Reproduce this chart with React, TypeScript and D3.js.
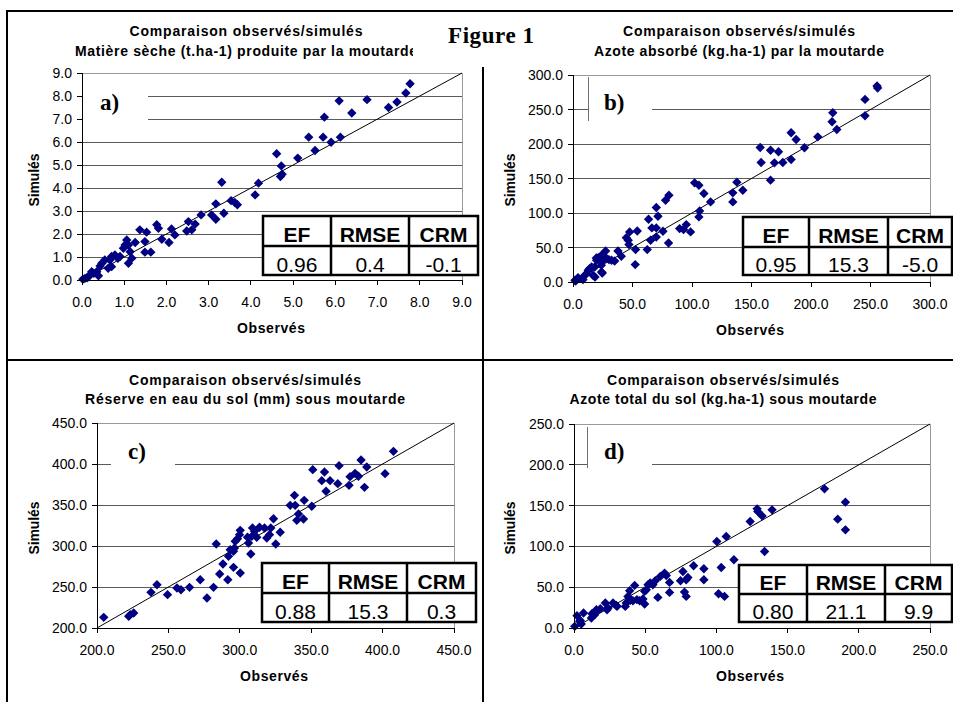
import React from "react";
import * as d3 from "d3";

const pointsA: [number, number][] = [
  [0.02, 0.03], [0.07, 0.07], [0.12, 0.1], [0.15, 0.14], [0.19, 0.22], [0.23, 0.36], [0.28, 0.29],
  [0.35, 0.36], [0.39, 0.18], [0.43, 0.61], [0.47, 0.73], [0.54, 0.87], [0.62, 0.51], [0.7, 0.58],
  [0.66, 0.87], [0.7, 1.02], [0.78, 1.09], [0.9, 1.02], [0.85, 0.94], [0.98, 1.38], [1.02, 1.52],
  [1.06, 1.74], [1.1, 1.52], [1.14, 1.23], [1.18, 0.95], [1.1, 0.73], [1.26, 1.63], [1.37, 2.18],
  [1.53, 2.08], [1.49, 1.67], [1.49, 1.21], [1.63, 1.21], [1.77, 2.4], [1.81, 2.25], [1.89, 1.77],
  [2.06, 1.63], [2.12, 2.22], [2.2, 1.96], [2.48, 2.13], [2.52, 2.54], [2.6, 2.18], [2.68, 2.43],
  [2.82, 2.83], [3.07, 2.83], [3.17, 2.64], [3.36, 2.9], [3.17, 3.31], [3.31, 4.25], [3.53, 3.45],
  [3.62, 3.37], [3.68, 3.27], [4.1, 3.7], [4.18, 4.21], [4.61, 5.49], [4.7, 4.5], [4.72, 4.96],
  [4.74, 4.6], [5.11, 5.3], [5.37, 6.21], [5.52, 5.63], [5.71, 6.21], [5.74, 7.08], [5.9, 5.99],
  [6.09, 7.79], [6.12, 6.21], [6.39, 7.26], [6.75, 7.84], [7.26, 7.5], [7.46, 7.74], [7.67, 8.13],
  [7.77, 8.53],
];

const pointsB: [number, number][] = [
  [1.7, 2.5], [2.2, 1.5], [4.5, 4.9], [4.2, 6.3], [7.2, 4.9], [8.4, 3.4], [10.1, 9.7], [11.2, 12.1],
  [12.8, 17], [14, 19.4], [18.5, 7.3], [16.8, 9.7], [15.6, 21.8], [18.2, 21.8], [19.6, 34.8],
  [24, 14.5], [24.6, 13], [19.8, 31.5], [21.2, 35.4], [24, 29], [24, 38.8], [23.8, 24.2], [30.2, 32.4],
  [28.2, 34], [26.6, 36.3], [27.4, 45], [32.4, 31.5], [35, 30.5], [37.8, 45], [40.6, 37.3],
  [46.4, 60.5], [47, 54.2], [44.8, 64.3], [47.6, 72.6], [52.3, 25.2], [52.6, 47], [54, 74], [62.4, 47],
  [63.5, 91], [65.2, 60.5], [66.3, 78.4], [70, 65.3], [70, 78.4], [70, 107.9], [71.4, 95.3],
  [75.6, 73.5], [80.3, 56.6], [77.8, 118.5], [80.6, 125.8], [89.6, 77.4], [92.9, 76], [95.2, 83.2],
  [98.8, 72.6], [105.8, 94.3], [106.4, 103], [102.2, 143.7], [105.8, 140.3], [110, 128.2],
  [115.6, 116.1], [134.3, 129.2], [134.3, 116.1], [137.7, 144.7], [142.7, 133], [157.3, 195],
  [158.1, 173.2], [166, 147.6], [166, 191], [169.3, 172.7], [172.7, 188.7], [176.3, 173.2],
  [183.3, 177.6], [183.3, 216.3], [187.5, 206.6], [194.5, 194.5], [205.7, 210.4], [217.7, 232.2],
  [218.3, 245.3], [221.7, 221], [245.4, 241], [245.4, 264.6], [256, 281], [255.5, 284],
];

const pointsC: [number, number][] = [
  [204.7, 213], [222.2, 214.2], [223.3, 216.3], [225.7, 218.3], [237.8, 243.5], [242, 252.8],
  [249.4, 240.7], [256, 248.8], [258.8, 246.7], [264.8, 249.6], [272.3, 258.9], [277, 236.6],
  [281.6, 249.6], [283.5, 302.4], [285.9, 265.9], [288.2, 278], [291.6, 258.9], [292.1, 287.4],
  [293.3, 295.5], [295.6, 293.5], [295.6, 274], [296.3, 297.6], [296.8, 305.7], [298.4, 308.9],
  [299.8, 313.8], [300.3, 319.1], [300.3, 267.1], [305.4, 310.6], [306.1, 303.7], [307.7, 290.2],
  [308.4, 311.8], [308.9, 322], [310.3, 317.9], [311.9, 310.6], [313.8, 322.8], [317.3, 322],
  [318.9, 309.8], [320.8, 313.8], [321.7, 322], [323.6, 333.3], [325.2, 302.4], [328.3, 316.7],
  [335.3, 349.6], [338.8, 349.6], [338.3, 361.8], [339.9, 331.3], [341.1, 339], [344.6, 333],
  [345.1, 355.7], [350.4, 348.4], [351.1, 393.1], [357.4, 379.7], [359.3, 390.2], [360.4, 366.7],
  [363.2, 379.7], [368.6, 376], [369.5, 398], [376.5, 374], [377.2, 384.6], [380.7, 388.6],
  [383.1, 385], [384.9, 404.9], [387.3, 371.5], [388.9, 396.3], [401.7, 388.2], [407.6, 415.4],
];

const pointsD: [number, number][] = [
  [0.5, 2], [2.1, 15.1], [4, 8.2], [4.4, 9.3], [5.1, 4.9], [6.7, 18.4], [12.2, 12.2], [12.6, 17.5],
  [14.5, 16.3], [15.7, 20.4], [15.7, 22.4], [18.5, 23.7], [22, 30.6], [23.2, 22.4], [23.9, 24.5],
  [27.4, 30.6], [29.7, 27.7], [30.2, 26.5], [36, 26.5], [36.7, 30.6], [37.9, 38.7], [39.1, 45.7],
  [39.5, 33.8], [41.4, 33.4], [42.6, 52.2], [44.2, 34.7], [46.1, 33.4], [48.4, 35.5], [49.6, 29.4],
  [49.6, 44.9], [50.8, 46.9], [52, 53], [53.5, 55.1], [55.4, 53], [57.1, 57.9], [58.9, 37.5],
  [60.6, 63.2], [63.6, 67.3], [64.8, 64.4], [67.1, 55.9], [67.1, 43.6], [74.8, 57.9], [76.5, 69.3],
  [77.6, 44], [78.8, 38.7], [78.8, 59.1], [80, 62], [84, 76.3], [91.2, 72.6], [91.2, 59.1],
  [100.3, 106], [101.5, 42], [103.4, 74.2], [105.7, 38.7], [106.9, 112.2], [112.3, 83.6],
  [123.7, 130.5], [128.6, 146], [129.1, 142.7], [132.1, 137.4], [133.8, 93.8], [139.1, 144.8],
  [175.9, 170.5], [185.2, 133.4], [190.6, 154.2], [190.6, 120.3],
];

// axis ticks
const ticksA = [0, 1, 2, 3, 4, 5, 6, 7, 8, 9];
const ticksB = [0, 50, 100, 150, 200, 250, 300];
const ticksC = [200, 250, 300, 350, 400, 450];
const ticksD = [0, 50, 100, 150, 200, 250];

// titles
const titleLine1 = "Comparaison observés/simulés";
const titlesA = [titleLine1, "Matière sèche (t.ha-1) produite par la moutarde"];
const titlesB = [titleLine1, "Azote absorbé (kg.ha-1) par la moutarde"];
const titlesC = [titleLine1, "Réserve en eau du sol (mm) sous moutarde"];
const titlesD = [titleLine1, "Azote total du sol (kg.ha-1) sous moutarde"];

// stats tables
const statHeaders = ["EF", "RMSE", "CRM"];
const statsA = ["0.96", "0.4", "-0.1"];
const statsB = ["0.95", "15.3", "-5.0"];
const statsC = ["0.88", "15.3", "0.3"];
const statsD = ["0.80", "21.1", "9.9"];

const letters = ["a)", "b)", "c)", "d)"];

// ---- layout (pixels) ----
const layouts = [
  {
    plot: { l: 82, r: 462, t: 73, b: 280 },
    title: { cx: 246, y1: 36, y2: 56, w1: 233, w2: 342 },
    xTitle: { cx: 271, y: 333 }, yTitle: { x: 39, cy: 180 },
    table: { cols: [263, 331, 409, 478], t: 216, mid: 246, b: 275 },
    box: { l: 83, r: 148, t: 80, b: 125, border: false }, letter: { x: 100, y: 110 },
  },
  {
    plot: { l: 573, r: 930, t: 75, b: 282 },
    title: { cx: 739, y1: 36, y2: 56, w1: 232, w2: 290 },
    xTitle: { cx: 750, y: 335 }, yTitle: { x: 515, cy: 180 },
    table: { cols: [743, 809, 888, 952], t: 217, mid: 247, b: 275 },
    box: { l: 588, r: 652, t: 77, b: 121, border: true }, letter: { x: 604, y: 110 },
  },
  {
    plot: { l: 97, r: 454, t: 423, b: 628 },
    title: { cx: 245, y1: 385, y2: 404, w1: 232, w2: 320 },
    xTitle: { cx: 274, y: 681 }, yTitle: { x: 39, cy: 528 },
    table: { cols: [262, 329, 407, 476], t: 563, mid: 593, b: 622 },
    box: { l: 111, r: 175, t: 428, b: 470, border: false }, letter: { x: 128, y: 459 },
  },
  {
    plot: { l: 574, r: 930, t: 424, b: 628 },
    title: { cx: 723, y1: 385, y2: 404, w1: 232, w2: 307 },
    xTitle: { cx: 750, y: 681 }, yTitle: { x: 515, cy: 528 },
    table: { cols: [739, 807, 885, 952], t: 565, mid: 594, b: 622 },
    box: { l: 587, r: 652, t: 427, b: 468, border: true }, letter: { x: 604, y: 459 },
  },
];

const panels = [
  { points: pointsA, ticks: ticksA, titles: titlesA, stats: statsA },
  { points: pointsB, ticks: ticksB, titles: titlesB, stats: statsB },
  { points: pointsC, ticks: ticksC, titles: titlesC, stats: statsC },
  { points: pointsD, ticks: ticksD, titles: titlesD, stats: statsD },
];

const SANS = "'Liberation Sans', Arial, sans-serif";
const SERIF = "'Liberation Serif', 'Times New Roman', serif";
const fmt = d3.format(".1f");
const diamond = d3.symbol(d3.symbolSquare, 44)();
const crisp = "crispEdges";

function Panel({ idx }: { idx: number }) {
  const { points, ticks, titles, stats } = panels[idx];
  const L = layouts[idx];
  const dom = d3.extent(ticks) as [number, number];
  const x = d3.scaleLinear().domain(dom).range([L.plot.l, L.plot.r]);
  const y = d3.scaleLinear().domain(dom).range([L.plot.b, L.plot.t]);
  const tb = L.table;

  return (
    <g>
      {/* grid (top one is the plot border) */}
      {ticks.slice(1, -1).map((t) => (
        <line key={"g" + t} x1={L.plot.l} x2={L.plot.r} y1={y(t)} y2={y(t)}
          stroke="#5a5a5a" strokeWidth={1} shapeRendering={crisp} />
      ))}
      <line x1={L.plot.l} x2={L.plot.r} y1={L.plot.t} y2={L.plot.t} stroke="#9a9a9a" shapeRendering={crisp} />
      <line x1={L.plot.r} x2={L.plot.r} y1={L.plot.t} y2={L.plot.b} stroke="#9a9a9a" shapeRendering={crisp} />

      {/* 1:1 line */}
      <line x1={x(dom[0])} y1={y(dom[0])} x2={x(dom[1])} y2={y(dom[1])} stroke="#000" strokeWidth={1} />

      {/* points */}
      {points.map((d, i) => (
        <path key={i} d={diamond} fill="#000080"
          transform={`translate(${x(d[0])},${y(d[1])}) rotate(45)`} />
      ))}

      {/* letter text box */}
      <rect x={L.box.l} y={L.box.t} width={L.box.r - L.box.l} height={L.box.b - L.box.t} fill="#fff" />
      {L.box.border && (
        <line x1={L.box.l} x2={L.box.l} y1={L.box.t} y2={L.box.b} stroke="#707070" shapeRendering={crisp} />
      )}
      <text x={L.letter.x} y={L.letter.y} fontFamily={SERIF} fontWeight="bold" fontSize={23}>
        {letters[idx]}
      </text>

      {/* axes */}
      <line x1={L.plot.l} x2={L.plot.l} y1={L.plot.t} y2={L.plot.b} stroke="#000" shapeRendering={crisp} />
      <line x1={L.plot.l} x2={L.plot.r} y1={L.plot.b} y2={L.plot.b} stroke="#000" shapeRendering={crisp} />
      {ticks.map((t) => (
        <g key={"t" + t}>
          <line x1={L.plot.l - 5} x2={L.plot.l} y1={y(t)} y2={y(t)} stroke="#000" shapeRendering={crisp} />
          <text x={L.plot.l - 10} y={y(t)} dy="0.36em" textAnchor="end" fontSize={14}>
            {fmt(t)}
          </text>
          <line x1={x(t)} x2={x(t)} y1={L.plot.b} y2={L.plot.b + 5} stroke="#000" shapeRendering={crisp} />
          <text x={x(t)} y={L.plot.b + 27} textAnchor="middle" fontSize={14}>
            {fmt(t)}
          </text>
        </g>
      ))}

      {/* axis titles */}
      <text x={L.xTitle.cx} y={L.xTitle.y} textAnchor="middle" fontWeight="bold" fontSize={14}
        textLength={68} lengthAdjust="spacing">Observés</text>
      <text transform={`translate(${L.yTitle.x},${L.yTitle.cy}) rotate(-90)`} textAnchor="middle"
        fontWeight="bold" fontSize={14} textLength={53} lengthAdjust="spacing">Simulés</text>

      {/* chart titles */}
      <text x={L.title.cx} y={L.title.y1} textAnchor="middle" fontWeight="bold" fontSize={14}
        textLength={L.title.w1} lengthAdjust="spacing">{titles[0]}</text>
      <text x={L.title.cx} y={L.title.y2} textAnchor="middle" fontWeight="bold" fontSize={14}
        textLength={L.title.w2} lengthAdjust="spacing">{titles[1]}</text>

      {/* stats table */}
      <rect x={tb.cols[0]} y={tb.t} width={tb.cols[3] - tb.cols[0]} height={tb.b - tb.t}
        fill="#fff" stroke="#000" strokeWidth={2.5} />
      <line x1={tb.cols[0]} x2={tb.cols[3]} y1={tb.mid} y2={tb.mid} stroke="#000" strokeWidth={2.5} />
      {[1, 2].map((c) => (
        <line key={"c" + c} x1={tb.cols[c]} x2={tb.cols[c]} y1={tb.t} y2={tb.b} stroke="#000" strokeWidth={2.5} />
      ))}
      {statHeaders.map((h, c) => (
        <g key={h}>
          <text x={(tb.cols[c] + tb.cols[c + 1]) / 2} y={tb.mid - 4} textAnchor="middle"
            fontWeight="bold" fontSize={21}>{h}</text>
          <text x={(tb.cols[c] + tb.cols[c + 1]) / 2} y={tb.b - 3.5} textAnchor="middle"
            fontSize={21}>{stats[c]}</text>
        </g>
      ))}
    </g>
  );
}

export default function App() {
  return (
    <svg width={953} height={702} fontFamily={SANS}
      style={{ position: "absolute", left: 0, top: 0, background: "#fff", display: "block" }}>
      <rect width={953} height={702} fill="#fff" />
      {[0, 1, 2, 3].map((i) => <Panel key={i} idx={i} />)}

      {/* frame of the figure */}
      <line x1={7} x2={953} y1={11} y2={11} stroke="#000" strokeWidth={2} />
      <line x1={7} x2={7} y1={10} y2={702} stroke="#000" strokeWidth={2} />
      <line x1={7} x2={953} y1={360} y2={360} stroke="#000" strokeWidth={2} />
      <line x1={483} x2={483} y1={60} y2={702} stroke="#000" strokeWidth={2} />

      {/* "Figure 1" text box */}
      <rect x={413} y={13} width={147} height={54} fill="#fff" />
      <text x={448} y={43} fontFamily={SERIF} fontWeight="bold" fontSize={23}
        textLength={86} lengthAdjust="spacing">Figure 1</text>
    </svg>
  );
}
